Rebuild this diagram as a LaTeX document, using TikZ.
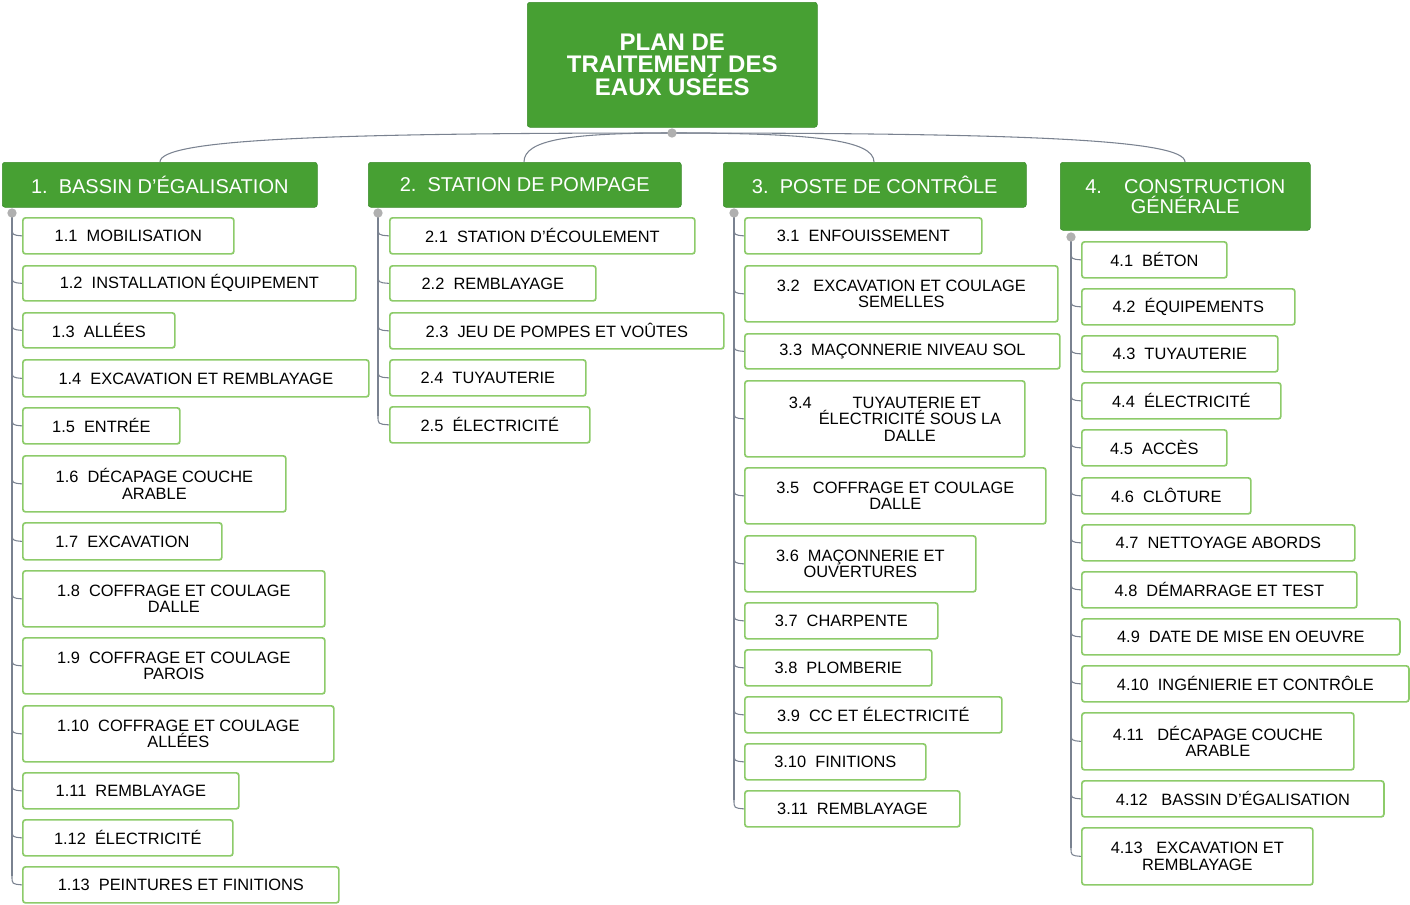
\documentclass[tikz,border=0pt]{standalone}
\usepackage{fontspec}
\setmainfont{Liberation Sans}
\definecolor{gfill}{HTML}{47A033}
\definecolor{gdraw}{HTML}{3A8A2A}
\definecolor{lgreen}{HTML}{8DCB6A}
\definecolor{conn}{HTML}{7A8290}
\definecolor{knob}{HTML}{B0B0B0}
\newcommand\mybox[7]{%
 \node[#1, anchor=north west, minimum width={0.75*(#5-#3)}, minimum height={0.75*(#6-#4)}] (#2) at (#3,-#4) {#7};}
\tikzset{
 itembox/.style={draw=lgreen, line width=1.3pt, rounded corners=2pt, fill=white, align=center, inner sep=1pt, font=\fontsize{12.3}{12.3}\selectfont, text=black},
 topbox/.style={draw=gdraw, fill=gfill, rounded corners=2pt, align=center, inner sep=1pt, text=white, font=\fontsize{15}{15}\selectfont},
 rootbox/.style={draw=gdraw, fill=gfill, rounded corners=2pt, align=center, inner sep=1pt, text=white, font=\fontsize{18}{17}\selectfont\bfseries},
 cline/.style={draw=conn, line width=0.8pt},
 knobst/.style={circle, fill=knob, inner sep=0pt, minimum size=7pt}
}
\begin{document}
\begin{tikzpicture}[x=0.75pt,y=0.75pt]
\useasboundingbox (0,0) rectangle (1410,-904);
% connectors from root
\coordinate (rk) at (672,-133);
\foreach \cx in {160,524,874,1185}{
 \draw[cline] (rk) .. controls ({\cx+0.3*(672-\cx)},-133) and (\cx,-140) .. (\cx,-162);
}
\mybox{rootbox}{root}{527}{2}{817}{127}{PLAN DE\\TRAITEMENT DES\\EAUX USÉES}
\node[knobst] at (rk) {};
\mybox{topbox}{t1}{2}{162}{317}{207}{1.\ \ BASSIN D'ÉGALISATION}
\mybox{topbox}{t2}{368}{162}{681}{207}{2.\ \ STATION DE POMPAGE}
\mybox{topbox}{t3}{723}{162}{1026}{207}{3.\ \ POSTE DE CONTRÔLE}
\mybox{topbox}{t4}{1060}{162}{1310}{230}{4.\ \ \ \ CONSTRUCTION\\GÉNÉRALE}
% columns
\foreach \lx/\bx/\ty/\by/\col in {12/22/213/884/a,378/389/213/424/b,734/744/213/808/c,1071/1081/237/856/d}{
 \draw[cline] (\lx,-\ty) -- ({\lx},{-\by+8});
 \node[knobst] at (\lx,-\ty) {};
}
\foreach \n/\ya/\yb/\xb/\t in {
a1/217/253/233/1.1\ \ MOBILISATION,
a2/265/300/355/1.2\ \ INSTALLATION ÉQUIPEMENT,
a3/312/347/174/1.3\ \ ALLÉES,
a4/359/396/368/1.4\ \ EXCAVATION ET REMBLAYAGE,
a5/407/443/179/1.5\ \ ENTRÉE,
a6/455/511/285/1.6\ \ DÉCAPAGE COUCHE\\ARABLE,
a7/522/559/221/1.7\ \ EXCAVATION,
a8/570/626/324/1.8\ \ COFFRAGE ET COULAGE\\DALLE,
a9/637/693/324/1.9\ \ COFFRAGE ET COULAGE\\PAROIS,
a10/705/761/333/1.10\ \ COFFRAGE ET COULAGE\\ALLÉES,
a11/772/808/238/1.11\ \ REMBLAYAGE,
a12/819/855/232/1.12\ \ ÉLECTRICITÉ,
a13/866/902/338/1.13\ \ PEINTURES ET FINITIONS}{
 \mybox{itembox}{\n}{22}{\ya}{\xb}{\yb}{\t}
 \draw[cline] (12,{-\ya/2-\yb/2+8}) .. controls (12,{-\ya/2-\yb/2}) .. (\n.west);
}
\foreach \n/\ya/\yb/\xb/\t in {
b1/217/253/694/2.1\ \ STATION D'ÉCOULEMENT,
b2/265/300/595/2.2\ \ REMBLAYAGE,
b3/312/348/723/2.3\ \ JEU DE POMPES ET VOÛTES,
b4/359/395/585/2.4\ \ TUYAUTERIE,
b5/406/442/589/2.5\ \ ÉLECTRICITÉ}{
 \mybox{itembox}{\n}{389}{\ya}{\xb}{\yb}{\t}
 \draw[cline] (378,{-\ya/2-\yb/2+8}) .. controls (378,{-\ya/2-\yb/2}) .. (\n.west);
}
\foreach \n/\ya/\yb/\xb/\t in {
c1/217/253/981/3.1\ \ ENFOUISSEMENT,
c2/265/321/1057/3.2\ \ \ EXCAVATION ET COULAGE\\SEMELLES,
c3/333/368/1059/3.3\ \ MAÇONNERIE NIVEAU SOL,
c4/380/456/1024/3.4\ \ \ \ \ \ \ \ \ TUYAUTERIE ET\\\ \ \ \ \ \ \ \ \ \ \ ÉLECTRICITÉ SOUS LA\\\ \ \ \ \ \ \ \ \ \ \ DALLE,
c5/467/523/1045/3.5\ \ \ COFFRAGE ET COULAGE\\DALLE,
c6/535/591/975/3.6\ \ MAÇONNERIE ET\\OUVERTURES,
c7/602/638/937/3.7\ \ CHARPENTE,
c8/649/685/931/3.8\ \ PLOMBERIE,
c9/696/732/1001/3.9\ \ CC ET ÉLECTRICITÉ,
c10/743/779/925/3.10\ \ FINITIONS,
c11/790/826/959/3.11\ \ REMBLAYAGE}{
 \mybox{itembox}{\n}{744}{\ya}{\xb}{\yb}{\t}
 \draw[cline] (734,{-\ya/2-\yb/2+8}) .. controls (734,{-\ya/2-\yb/2}) .. (\n.west);
}
\foreach \n/\ya/\yb/\xb/\t in {
d1/241/277/1226/4.1\ \ BÉTON,
d2/288/324/1294/4.2\ \ ÉQUIPEMENTS,
d3/335/371/1277/4.3\ \ TUYAUTERIE,
d4/382/418/1280/4.4\ \ ÉLECTRICITÉ,
d5/429/465/1226/4.5\ \ ACCÈS,
d6/477/513/1250/4.6\ \ CLÔTURE,
d7/524/560/1354/4.7\ \ NETTOYAGE ABORDS,
d8/571/607/1356/4.8\ \ DÉMARRAGE ET TEST,
d9/618/654/1399/4.9\ \ DATE DE MISE EN OEUVRE,
d10/665/701/1408/4.10\ \ INGÉNIERIE ET CONTRÔLE,
d11/712/769/1353/4.11\ \ \ DÉCAPAGE COUCHE\\ARABLE,
d12/780/816/1383/4.12\ \ \ BASSIN D'ÉGALISATION,
d13/827/884/1312/4.13\ \ \ EXCAVATION ET\\REMBLAYAGE}{
 \mybox{itembox}{\n}{1081}{\ya}{\xb}{\yb}{\t}
 \draw[cline] (1071,{-\ya/2-\yb/2+8}) .. controls (1071,{-\ya/2-\yb/2}) .. (\n.west);
}
\end{tikzpicture}
\end{document}
